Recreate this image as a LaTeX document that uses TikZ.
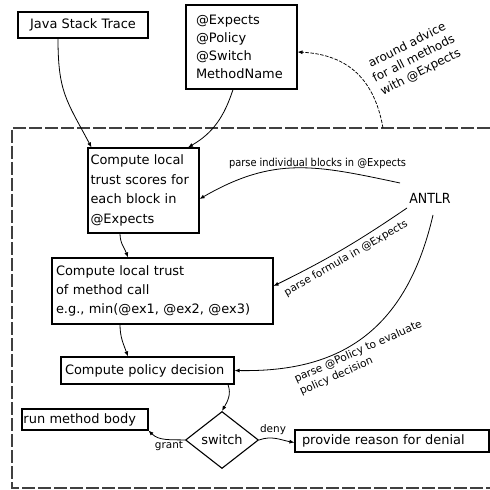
\documentclass[tikz,border=0pt]{standalone}
\usepackage{fontspec}
\setmainfont{DejaVu Sans}
\newfontfamily\condf[FakeStretch=0.9]{DejaVu Sans}
\usetikzlibrary{arrows.meta,shapes.geometric}
\begin{document}
\begin{tikzpicture}[x=1bp,y=1bp,
  box/.style={draw, line width=1.1bp, inner xsep=4bp, inner ysep=0bp,
    font=\fontsize{13}{19}\selectfont, align=left},
  conn/.style={line width=0.8bp, -{Latex[length=5bp,width=4bp]}},
  lab/.style={inner sep=0bp, font=\fontsize{10.5}{13}\selectfont},
]
\useasboundingbox (0,0) rectangle (490,490);

% dashed frame
\draw[line width=1.2bp, color=black!75, dash pattern=on 13bp off 3bp]
  (490,362) -- (12,362) -- (12,2) -- (490,2);
\coordinate (adv) at (383,362);

% boxes
\node[box, minimum width=130bp, minimum height=26bp, align=center] (java) at (83,465) {Java Stack Trace};
\node[box, inner xsep=10bp, text width=91bp, minimum height=84bp,
  font=\fontsize{13}{18}\selectfont] (exp) at (241.5,443) {@Expects\\@Policy\\@Switch\\MethodName};
\node[box, inner xsep=2.5bp, text width=106bp, minimum height=85bp,
  font=\fontsize{13}{19.5}\selectfont] (b1) at (143.5,299.5) {Compute local\\trust scores for\\each block in\\@Expects};
\node[box, text width=213bp, minimum height=66bp] (b2) at (162.5,199) {Compute local trust\\of method call\\e.g., min(@ex1, @ex2, @ex3)};
\node[box, text width=165bp, minimum height=27bp] (b3) at (147.5,119.5) {Compute policy decision};
\node[box, inner xsep=1.5bp, text width=123bp, minimum height=21bp] (run) at (85,70.5) {run method body};
\node[box, inner xsep=7bp, text width=180bp, minimum height=22bp] (reason) at (392,49) {provide reason for denial};
\node[diamond, draw, line width=1.1bp, inner sep=0bp, minimum width=73bp, minimum height=57bp,
  font=\fontsize{13}{15}\selectfont] (sw) at (222,50) {switch};
\node[inner sep=1bp, font=\condf\fontsize{14}{16}\selectfont] (antlr) at (430,292) {ANTLR};

% labels
\node[lab, font=\condf\fontsize{11}{13}\selectfont] (l1) at (317.5,327) {parse individual blocks in @Expects};
\node[lab, rotate=30] (l2) at (346,231.5) {parse formula in @Expects};
\node[lab, rotate=24, align=left, font=\fontsize{10.7}{13.5}\selectfont] (l3) at (361,132) {parse @Policy to evaluate\\policy decision};
\node[lab, rotate=27, align=center, font=\fontsize{12}{15}\selectfont] (l4) at (414,431) {around advice\\for all methods\\with @Expects};
\node[lab] (l5) at (169,44.3) {grant};
\node[lab] (l6) at (273,60) {deny};

% connectors
\draw[conn] ([xshift=-25bp]java.south) to[out=-90,in=118,looseness=1.2] ([xshift=-52bp]b1.north);
\draw[conn] ([xshift=-8.5bp]exp.south) to[out=-108,in=30] ([xshift=44.5bp]b1.north);
\draw[conn, line width=0.75bp, dash pattern=on 3.5bp off 1.5bp] (adv) to[out=100,in=-3,out distance=55bp,in distance=45bp] ([yshift=-5bp]exp.east);
\draw[conn] ([shift={(-30bp,15bp)}]antlr.center) to[out=168,in=30,looseness=1.1] ([yshift=-8.5bp]b1.east);
\draw[conn] ([shift={(-23bp,-10bp)}]antlr.center) to[bend left=4] ([yshift=5bp]b2.east);
\draw[conn] ([shift={(3bp,-17bp)}]antlr.center) to[out=-103,in=-1,out distance=128bp,in distance=96bp] (b3.east);
\draw[conn] ([xshift=-23.5bp]b1.south) to[out=-90,in=110] ([xshift=-34.5bp]b2.north);
\draw[conn] ([xshift=-42.5bp]b2.south) to[out=-90,in=110] ([xshift=-19.5bp]b3.north);
\draw[conn] ([xshift=80.5bp]b3.south) to[out=-70,in=60] (sw.north);
\draw[conn] (sw.west) to[out=178,in=-45] (run.south east);
\draw[conn] (sw.east) to[out=20,in=170] ([yshift=-1.5bp]reason.west);
\end{tikzpicture}
\end{document}
